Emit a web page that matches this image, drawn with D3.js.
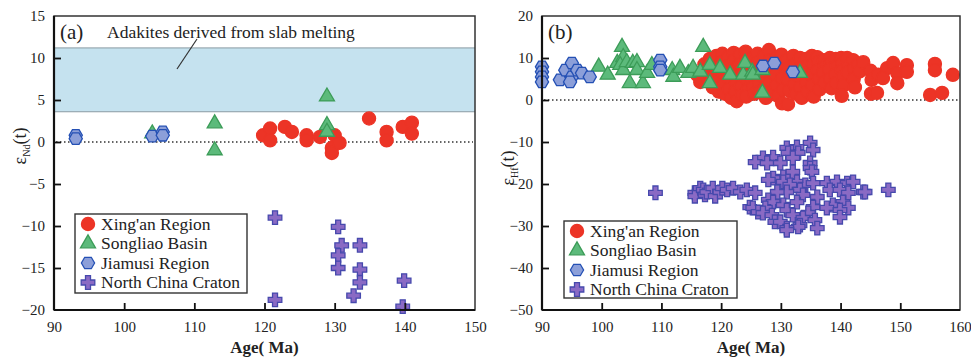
<!DOCTYPE html>
<html>
<head>
<meta charset="utf-8">
<script src="https://cdn.jsdelivr.net/npm/d3@7"></script>
<style>
  body { margin: 0; background: #fff; }
  svg { display: block; font-family: "Liberation Serif", "Times New Roman", "DejaVu Serif", serif; }
</style>
</head>
<body>
<div id="container"></div>
<script>
var width = 971, height = 358;
var serif = "'Liberation Serif', 'Times New Roman', 'DejaVu Serif', serif";

// ---- data (age Ma, epsilon) ----
var xingAnA = [[119.8,0.8],[120.8,1.6],[120.8,0.2],[122.9,1.8],[123.9,1.2],[126,0.8],[126,0.2],[127.9,0.6],
  [129.6,-0.7],[129.6,-1.3],[130,0.8],[130.7,-0.1],[134.9,2.8],[137.4,1.2],[137.4,0.2],[139.7,1.8],[141,2.3],[141,1.0]];
var songliaoA = [[104,1.0],[112.9,2.2],[112.9,-1.0],[128.9,5.4],[128.9,2.0],[128.9,1.2]];
var jiamusiA = [[93.1,0.8],[93.1,0.4],[104,0.7],[105.5,1.2],[105.5,0.8]];
var ncCratonA = [[121.5,-9.0],[121.5,-18.8],[130.5,-10.1],[131,-12.3],[130.5,-13.5],[130.5,-15.0],[133.6,-12.3],
  [133.6,-15.2],[133.6,-16.7],[132.7,-18.3],[139.9,-16.5],[139.7,-19.6]];

var xingAnB = [[116,6.0],[116.5,4.3],[117.2,8.5],[117.4,7.2],[118.1,9.8],[118.3,5.5],[118.6,3.0],
  [119.2,10.5],[119.1,7.8],[119.4,4.5],[119.6,2.0],[120.2,11.0],[120.1,9.0],[120.4,6.5],[120.3,3.5],[120.6,1.5],
  [121.2,10.2],[121.1,8.0],[121.4,5.0],[121.3,2.5],[121.7,0.5],[122.1,11.2],[122.3,9.5],[122.2,7.0],[122.5,4.0],
  [122.4,2.0],[122.6,-0.3],[123.2,10.8],[123.1,8.5],[123.4,6.0],[123.3,3.2],[123.5,1.2],[124.1,11.5],[124.2,9.2],
  [124.4,7.5],[124.3,5.0],[124.5,2.5],[124.2,0.8],[125.2,10.0],[125.3,8.0],[125.1,4.5],[125.4,3.0],[125.6,1.5],
  [126.1,11.0],[126.3,9.0],[126.2,6.5],[126.4,3.8],[126.5,2.0],[127.2,10.5],[127.4,7.8],[127.1,5.5],[127.3,2.8],
  [127.5,0.5],[128,11.9],[128.2,9.5],[128.4,7.0],[128.1,4.2],[128.3,1.8],[129.2,10.0],[129.4,8.2],[129.1,6.0],
  [129.3,3.5],[129.5,1.0],[130.1,10.8],[130.3,8.8],[130.2,5.2],[130.4,2.5],[130.2,-0.8],[131.1,9.5],[131.3,7.5],
  [131.2,4.8],[131.4,2.2],[131.2,-1.0],[132.1,10.5],[132.4,8.5],[132.2,6.5],[132.3,3.8],[132.5,1.5],[133.2,10.0],
  [133.4,7.8],[133.1,5.5],[133.3,3.0],[133.5,0.5],[134.2,9.8],[134.4,8.0],[134.1,6.2],[134.3,4.0],[134.5,2.0],
  [135.2,10.5],[135.4,8.5],[135.1,6.0],[135.3,3.5],[135.5,0.8],[136.1,10.2],[136.3,9.0],[136.2,7.0],[136.4,5.0],
  [136.5,2.5],[137.2,9.5],[137.4,8.0],[137.1,6.5],[137.3,4.2],[138.2,10.0],[138.4,8.8],[138.1,7.2],[138.3,5.0],
  [138.5,2.8],[139.2,9.8],[139.4,8.0],[139.1,6.0],[139.3,4.0],[140.1,10.0],[140.3,8.5],[140.2,7.0],[140.4,5.5],
  [140.5,3.5],[140.2,1.0],[141.1,10.0],[141.3,8.0],[141.2,6.5],[142.1,9.5],[142.3,7.5],[142.2,5.0],[142.4,3.0],
  [143,8.5],[143.2,6.8],[143.8,9.0],[145,7.0],[145.2,4.8],[145.1,1.5],[146.1,1.7],[146.3,6.0],[147.8,7.6],
  [147.1,5.2],[148.8,8.8],[149.5,6.4],[149.5,4.0],[151.1,8.3],[151.1,6.7],[155,1.2],[155.8,8.6],[155.8,7.1],
  [157,1.7],[158.8,6.0]];
var songliaoB = [[99.5,7.9],[101,6.0],[102.6,8.8],[103.4,12.6],[103.6,10.2],[103.1,8.3],[103.6,7.1],[104.2,9.0],
  [104.7,4.0],[105.2,8.8],[105.9,9.0],[105.9,7.1],[106.9,4.0],[107.6,6.4],[108.4,8.3],[111.8,7.1],[112,5.5],
  [113.1,7.6],[114.5,6.4],[115.3,7.6],[116.5,6.7],[117,12.6],[118.1,8.3],[118.1,4.0],[119.8,7.6],[121.5,6.0],
  [123.7,6.0],[124,8.8],[125.2,6.7],[125.3,6.0],[126.9,7.1],[126.9,1.7],[133.2,6.4]];
var jiamusiB = [[90,7.9],[90,6.7],[90,5.5],[90,4.3],[93,4.8],[93.9,7.1],[95,8.8],[95,5.5],[95.9,7.1],[94.7,4.3],
  [96.7,6.4],[98,5.5],[109.8,9.5],[109.8,7.9],[109.8,7.1],[127,8.1],[128.9,8.8],[132,6.7]];
var ncCratonB = [[109,-22.1],[115.6,-22.1],[115.6,-22.9],[116.5,-21],[117,-21.4],[117.3,-22.6],[117.6,-21.9],
  [118.6,-21],[119,-22.9],[119.8,-21.9],[120.2,-21],[121,-21.4],[122,-21],[123.2,-21.9],[124.3,-21.4],[125.7,-22.1],
  [134.9,-10.2],[135.4,-11.9],[132.7,-11.2],[131,-11.4],[131.2,-12.6],[132.9,-12.6],[128.7,-13.6],[127,-13.8],
  [132,-13.8],[125.7,-14.8],[127.7,-15],[129.9,-15],[134.9,-15],[134.9,-16.2],[135.2,-17.1],[132,-17.1],
  [130.4,-18.3],[128.7,-18.6],[127.9,-19],[130.4,-19.5],[132.7,-19.5],[131.5,-20.2],[134.1,-20.2],[135.4,-19.8],
  [137.7,-19.8],[139.4,-19.5],[141.1,-19.8],[142.1,-19.5],[133.2,-21.4],[138.2,-21.4],[139.9,-21.4],[141.3,-22.1],
  [131,-21.9],[129.4,-21.9],[133.7,-22.6],[136.1,-23.1],[127.9,-23.8],[128.7,-24.3],[132.7,-24.3],[140.4,-24.3],
  [130.4,-25],[138.7,-25],[124.8,-25.5],[135.4,-25.5],[125.3,-25.7],[127.4,-25.7],[137.7,-25.7],[141.3,-25.7],
  [126.2,-26.7],[127,-26.9],[134.6,-26.9],[131,-26.2],[139.9,-26.2],[128.5,-27.4],[132,-27.4],[139.9,-27.9],
  [133.7,-28.1],[135.7,-28.6],[129,-29],[129.9,-29],[133.2,-29.8],[132.9,-30.2],[131,-30.5],[136.1,-30.5],
  [131,-31],[143.8,-21.9],[144.1,-21.9],[148,-21.4]];

var xTicksA = [90, 100, 110, 120, 130, 140, 150];
var yTicksA = [-20, -15, -10, -5, 0, 5, 10, 15];
var xTicksB = [90, 100, 110, 120, 130, 140, 150, 160];
var yTicksB = [-50, -40, -30, -20, -10, 0, 10, 20];
var adakiteBand = [3.6, 11.2];
var legendNames = ["Xing'an Region", "Songliao Basin", "Jiamusi Region", "North China Craton"];

var styles = [
  { shape: "circle", fill: "#ec3426", stroke: "#ec3426" },
  { shape: "triangle", fill: "#5cba7b", stroke: "#3c9c58" },
  { shape: "hexagon", fill: "#8c9fd9", stroke: "#2450b4" },
  { shape: "cross", fill: "#8a6ac4", stroke: "#4649ad" }
];

function symbolPath(shape) {
  if (shape === "circle") return d3.symbol(d3.symbolCircle, 135)();
  if (shape === "triangle") {
    var s = 15, h = s * Math.sqrt(3) / 2;
    return "M0," + (-h * 2 / 3) + "L" + (s / 2) + "," + (h / 3) + "L" + (-s / 2) + "," + (h / 3) + "Z";
  }
  if (shape === "hexagon") {
    var r = 6.6, pts = [];
    for (var i = 0; i < 6; i++) {
      var a = Math.PI / 3 * i;
      pts.push([r * Math.cos(a), r * Math.sin(a)]);
    }
    return "M" + pts.join("L") + "Z";
  }
  // plus sign
  var a1 = 2.5, a2 = 6.8;
  return "M" + -a1 + "," + -a2 + "H" + a1 + "V" + -a1 + "H" + a2 + "V" + a1 + "H" + a1 + "V" + a2 +
    "H" + -a1 + "V" + a1 + "H" + -a2 + "V" + -a1 + "H" + -a1 + "Z";
}

var svg = d3.select("#container").append("svg")
  .attr("width", width)
  .attr("height", height)
  .style("font-family", serif);

function makePanel(cfg) {
  var x = d3.scaleLinear().domain(cfg.xDomain).range([cfg.left, cfg.right]);
  var y = d3.scaleLinear().domain(cfg.yDomain).range([cfg.bottom, cfg.top]);
  var g = svg.append("g");

  if (cfg.band) {
    g.append("rect")
      .attr("x", x(cfg.xDomain[0])).attr("width", x(cfg.xDomain[1]) - x(cfg.xDomain[0]))
      .attr("y", y(cfg.band[1])).attr("height", y(cfg.band[0]) - y(cfg.band[1]))
      .attr("fill", "#c5e2ef");
    cfg.band.forEach(function (v) {
      g.append("line")
        .attr("x1", x(cfg.xDomain[0])).attr("x2", x(cfg.xDomain[1]))
        .attr("y1", y(v)).attr("y2", y(v))
        .attr("stroke", "#8a9aa3").attr("stroke-width", 1);
    });
  }

  // zero line
  g.append("line")
    .attr("x1", x(cfg.xDomain[0]) + 2).attr("x2", x(cfg.xDomain[1]) - 2)
    .attr("y1", y(0)).attr("y2", y(0))
    .attr("stroke", "#333").attr("stroke-width", 1.5)
    .attr("stroke-dasharray", "1.5,2.5");

  cfg.series.forEach(function (s, i) {
    var st = styles[i];
    g.append("g").selectAll("path")
      .data(s)
      .enter().append("path")
      .attr("d", symbolPath(st.shape))
      .attr("transform", function (d) { return "translate(" + x(d[0]) + "," + y(d[1]) + ")"; })
      .attr("fill", st.fill)
      .attr("stroke", st.stroke)
      .attr("stroke-width", 1.3);
  });

  // frame
  g.append("rect")
    .attr("x", cfg.left).attr("y", cfg.top)
    .attr("width", cfg.right - cfg.left).attr("height", cfg.bottom - cfg.top)
    .attr("fill", "none").attr("stroke", "#333").attr("stroke-width", 1.5);
  g.append("line").attr("x1", cfg.left).attr("x2", cfg.left).attr("y1", cfg.top).attr("y2", cfg.bottom)
    .attr("stroke", "#111").attr("stroke-width", 2.2);
  g.append("line").attr("x1", cfg.left).attr("x2", cfg.right).attr("y1", cfg.bottom).attr("y2", cfg.bottom)
    .attr("stroke", "#111").attr("stroke-width", 2.2);

  var xAxis = g.append("g")
    .attr("transform", "translate(0," + cfg.bottom + ")")
    .call(d3.axisBottom(x).tickValues(cfg.xTicks).tickSizeInner(-7).tickSizeOuter(0).tickPadding(11));
  var yAxis = g.append("g")
    .attr("transform", "translate(" + cfg.left + ",0)")
    .call(d3.axisLeft(y).tickValues(cfg.yTicks).tickSizeInner(-7).tickSizeOuter(0).tickPadding(9));
  [xAxis, yAxis].forEach(function (ax) {
    ax.select(".domain").remove();
    ax.selectAll("line").attr("stroke", "#111").attr("stroke-width", 1.8);
    ax.selectAll("text").attr("font-family", serif).attr("font-size", 15).attr("fill", "#222");
  });
  // hide ticks sitting on the frame edge
  xAxis.selectAll(".tick line").filter(function (d) { return d === cfg.xDomain[0] || d === cfg.xDomain[1]; }).remove();
  yAxis.selectAll(".tick line").filter(function (d) { return d === cfg.yDomain[0] || d === cfg.yDomain[1]; }).remove();

  g.append("text")
    .attr("x", x(cfg.xLabelAt)).attr("y", 353)
    .attr("text-anchor", "middle")
    .attr("font-size", 17).attr("font-weight", "bold").attr("fill", "#222")
    .text("Age( Ma)");

  var yl = g.append("text")
    .attr("transform", "translate(" + cfg.yLabelX + "," + cfg.yLabelY + ") rotate(-90)")
    .attr("text-anchor", "middle")
    .attr("font-size", 18).attr("fill", "#222");
  yl.append("tspan").text("ε");
  yl.append("tspan").attr("font-size", 10).attr("dy", 4).text(cfg.sub);
  yl.append("tspan").attr("dy", -4).text("(t)");

  g.append("text")
    .attr("x", cfg.left + 6).attr("y", cfg.top + 23)
    .attr("font-size", 21).attr("fill", "#222")
    .text(cfg.tag);

  // legend
  var lg = g.append("g");
  lg.append("rect")
    .attr("x", cfg.legend[0]).attr("y", cfg.legend[1])
    .attr("width", cfg.legend[2]).attr("height", cfg.legend[3])
    .attr("fill", "#fff").attr("stroke", "#333").attr("stroke-width", 1.4);
  legendNames.forEach(function (name, i) {
    var cy = cfg.legend[1] + 10 + i * 19.5;
    var st = styles[i];
    lg.append("path")
      .attr("d", symbolPath(st.shape))
      .attr("transform", "translate(" + (cfg.legend[0] + 13) + "," + cy + ")")
      .attr("fill", st.fill).attr("stroke", st.stroke).attr("stroke-width", 1.3);
    lg.append("text")
      .attr("x", cfg.legend[0] + 26).attr("y", cy + 5.5)
      .attr("font-size", 17.5).attr("fill", "#222")
      .text(name);
  });

  return { g: g, x: x, y: y };
}

var pa = makePanel({
  left: 54, right: 475, top: 16, bottom: 310,
  xDomain: [90, 150], yDomain: [-20, 15],
  xTicks: xTicksA, yTicks: yTicksA,
  band: adakiteBand,
  series: [xingAnA, songliaoA, jiamusiA, ncCratonA],
  xLabelAt: 120, yLabelX: 26, yLabelY: 146, sub: "Nd", tag: "(a)",
  legend: [75, 214, 172, 79]
});

pa.g.append("text")
  .attr("x", 107).attr("y", 38)
  .attr("font-size", 17.5).attr("fill", "#222")
  .text("Adakites derived from slab melting");
pa.g.append("line")
  .attr("x1", 177).attr("y1", 69).attr("x2", 197).attr("y2", 39)
  .attr("stroke", "#333").attr("stroke-width", 1.2);

makePanel({
  left: 542, right: 960, top: 16, bottom: 310,
  xDomain: [90, 160], yDomain: [-50, 20],
  xTicks: xTicksB, yTicks: yTicksB,
  band: null,
  series: [xingAnB, songliaoB, jiamusiB, ncCratonB],
  xLabelAt: 125, yLabelX: 514, yLabelY: 168, sub: "Hf", tag: "(b)",
  legend: [564, 221, 173, 77]
});
</script>
</body>
</html>
